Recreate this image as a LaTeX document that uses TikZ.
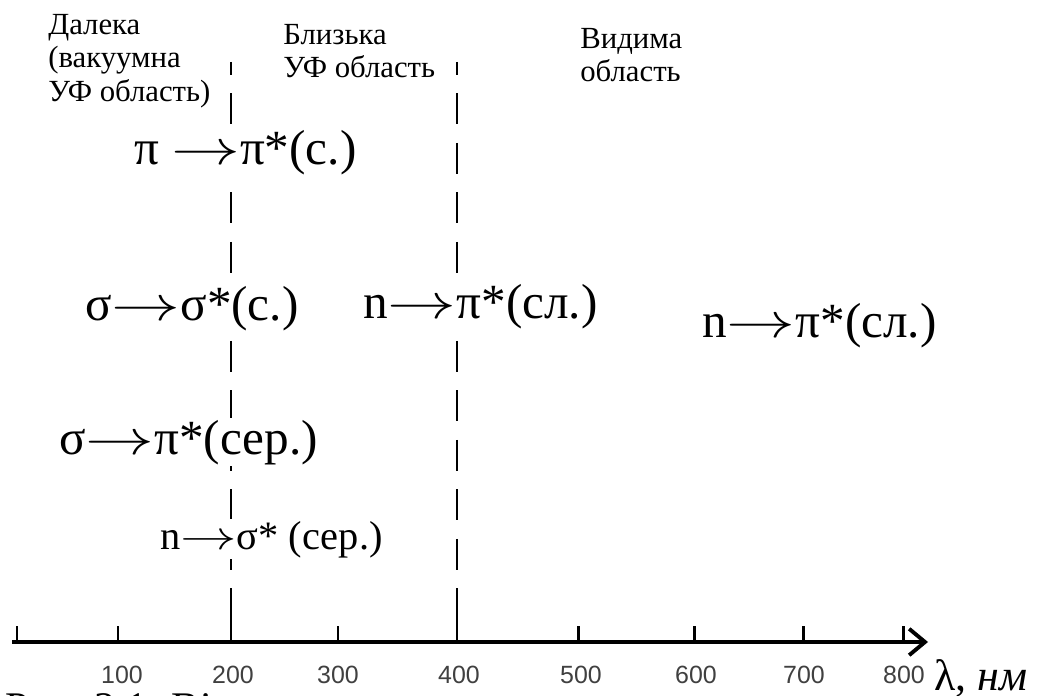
\RequirePackage{fix-cm}
\documentclass[tikz,border=0pt]{standalone}
\usepackage{fontspec}
\setmainfont{Liberation Serif}
\setsansfont{Liberation Sans}
\usetikzlibrary{arrows.meta}

\newcommand{\tr}{\scalebox{1.4}[1]{$\rightarrow$}}

\begin{document}
\begin{tikzpicture}[
x=0.02cm, y=-0.02cm,
>={Straight Barb[length=9pt,width=15pt]},
region/.style={anchor=north west, align=left, inner sep=0pt,
  font=\fontsize{17.5}{19}\selectfont},
trans/.style={anchor=base west, fill=white, inner sep=1pt,
  font=\fontsize{28}{32}\selectfont},
ticklabel/.style={anchor=base, text=black!75,
  font=\sffamily\fontsize{14.2}{16}\selectfont},
border/.style={line width=1.7pt, dash pattern=on 0.62cm off 0.37cm, dash phase=0.36cm}
]

\useasboundingbox (0,0) rectangle (1038,696);

% axis
\coordinate (start) at (12,642);
\coordinate (tip) at (928,642);
\draw[->, line width=2.2pt] (start) -- (tip);

\foreach \x/\val in {17/0, 118/100, 338/300, 578/500, 694/600, 803/700, 903/800} {
  \coordinate (t\val) at (\x,642);
  \draw[line width=1.7pt] (t\val) -- ++(0,-16);
}
\foreach \x/\val in {231/200, 457/400} {
  \coordinate (t\val) at (\x,642);
  \draw[line width=1.7pt] (t\val) -- ++(0,-37);
}
\foreach \val/\dx in {100/4, 200/2, 300/0, 400/2, 500/3, 600/2, 700/1, 800/1} {
  \node[ticklabel] (l\val) at ([xshift=\dx*0.02cm]t\val |- 0,683) {\val};
}
\node[anchor=base west, inner sep=0pt, font=\fontsize{25}{28}\selectfont]
  (unit) at (934,690) {λ, \textit{нм}};

% region borders
\coordinate (top200) at (231,62);
\coordinate (top400) at (457,62);
\draw[border] (top200) -- (t200);
\draw[border] (top400) -- (t400);

% region names
\node[region] (far) at (48,14) {Далека\\(вакуумна\\УФ область)};
\node[region] (near) at (283,24) {Близька\\УФ область};
\node[region] (vis) at (580,28) {Видима\\область};

% transitions
\node[trans] (pipi) at (132,164) {π \tr π*(с.)};
\node[trans] (sigsig) at (83,320) {σ\tr σ*(с.)};
\node[trans] (npimid) at (361,318) {n\tr π*(сл.)};
\node[trans] (npivis) at (700,337) {n\tr π*(сл.)};
\node[trans] (sigpi) at (57,454) {σ\tr π*(сер.)};
\node[trans, font=\fontsize{23}{27}\selectfont] (nsig) at (158,549) {n\tr σ* (сер.)};

% caption, cut off by the page edge
\node[anchor=base west, inner sep=0pt, font=\fontsize{24}{28}\selectfont]
  (cap) at (5,721) {Рис. 2.1. Ві};

\end{tikzpicture}
\end{document}
